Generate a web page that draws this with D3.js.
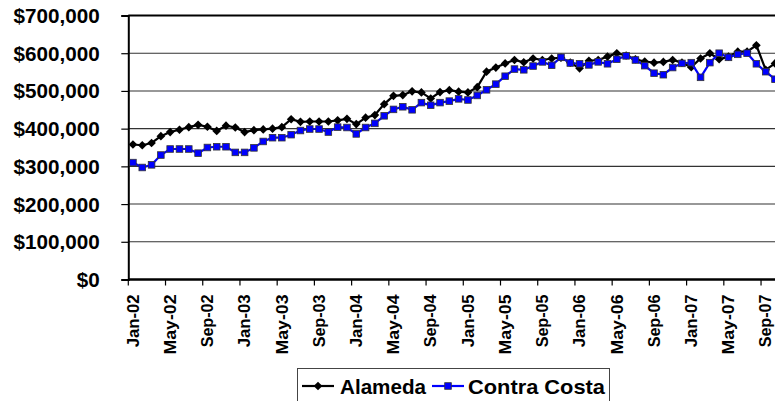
<!DOCTYPE html>
<html>
<head>
<meta charset="utf-8">
<script src="https://cdn.jsdelivr.net/npm/d3@7"></script>
<style>
  html, body { margin: 0; padding: 0; background: #fff; }
  svg { display: block; }
  svg text { font-family: "Liberation Sans", Arial, sans-serif; font-weight: bold; fill: #000; }
</style>
</head>
<body>
<svg id="chart" width="775" height="401"></svg>
<script>
// ---- Data ----
const categories = [
  "Jan-02","Feb-02","Mar-02","Apr-02","May-02","Jun-02","Jul-02","Aug-02","Sep-02","Oct-02","Nov-02","Dec-02",
  "Jan-03","Feb-03","Mar-03","Apr-03","May-03","Jun-03","Jul-03","Aug-03","Sep-03","Oct-03","Nov-03","Dec-03",
  "Jan-04","Feb-04","Mar-04","Apr-04","May-04","Jun-04","Jul-04","Aug-04","Sep-04","Oct-04","Nov-04","Dec-04",
  "Jan-05","Feb-05","Mar-05","Apr-05","May-05","Jun-05","Jul-05","Aug-05","Sep-05","Oct-05","Nov-05","Dec-05",
  "Jan-06","Feb-06","Mar-06","Apr-06","May-06","Jun-06","Jul-06","Aug-06","Sep-06","Oct-06","Nov-06","Dec-06",
  "Jan-07","Feb-07","Mar-07","Apr-07","May-07","Jun-07","Jul-07","Aug-07","Sep-07","Oct-07","Nov-07","Dec-07"
];
const alameda = [
  358000,356000,362000,380000,391000,397000,404000,410000,405000,394000,408000,403000,
  391000,396000,398000,400000,404000,425000,418000,419000,419000,419000,422000,426000,
  412000,429000,436000,465000,487000,489000,499000,496000,480000,497000,502000,498000,
  496000,510000,551000,562000,573000,582000,576000,586000,582000,586000,588000,575000,
  560000,580000,582000,591000,600000,594000,584000,578000,575000,577000,582000,575000,
  563000,586000,600000,584000,591000,604000,604000,621000,556000,573000
];
const contraCosta = [
  310000,297000,304000,330000,346000,346000,346000,335000,350000,352000,352000,337000,
  337000,349000,366000,376000,376000,384000,395000,399000,399000,391000,404000,403000,
  386000,403000,414000,434000,451000,458000,450000,469000,462000,469000,473000,479000,
  476000,488000,503000,518000,539000,558000,556000,566000,577000,568000,589000,574000,
  572000,569000,577000,572000,584000,593000,582000,567000,547000,543000,562000,573000,
  575000,536000,575000,600000,589000,597000,600000,572000,551000,531000
];
const yTicks = [0,100000,200000,300000,400000,500000,600000,700000];
const seriesNames = ["Alameda","Contra Costa"];
const seriesColors = ["#000000","#0000FF"];

// ---- Text width helper (approximates Times New Roman Bold advance widths) ----
const timesBold = { "$":0.5, ",":0.25, "-":0.333, " ":0.25, "J":0.5, "M":0.944, "S":0.556, "A":0.722, "C":0.722,
  "a":0.5, "n":0.556, "y":0.5, "e":0.444, "p":0.556, "l":0.278, "m":0.833, "d":0.556, "o":0.5, "t":0.333, "r":0.444, "s":0.389 };
const timesWidth = (s, size) => size * Array.from(s).reduce((w, ch) => w + (timesBold[ch] ?? 0.5), 0);

// ---- Layout ----
const svg = d3.select("#chart");
const plotLeft = 128.3, bandW = 9.305;
const plotTop = 15.5, plotBottom = 279.5;

const x = d3.scaleBand().domain(categories)
  .range([plotLeft, plotLeft + categories.length * bandW]).paddingInner(0).paddingOuter(0);
const y = d3.scaleLinear().domain([0, 700000]).range([plotBottom, plotTop]);
const cx = c => x(c) + x.bandwidth() / 2;

// gridlines
svg.append("g").selectAll("line").data(yTicks.filter(v => v > 0 && v < 700000)).join("line")
  .attr("x1", plotLeft).attr("x2", 800)
  .attr("y1", d => y(d)).attr("y2", d => y(d))
  .attr("stroke", "#333").attr("stroke-width", 1.1);

// top border
svg.append("line").attr("x1", plotLeft).attr("x2", 800)
  .attr("y1", y(700000)).attr("y2", y(700000))
  .attr("stroke", "#000").attr("stroke-width", 2.2);

// y axis
const yAxis = d3.axisLeft(y).tickValues(yTicks).tickSize(7)
  .tickFormat(d => "$" + d3.format(",")(d));
const gy = svg.append("g").attr("transform", `translate(${plotLeft},0)`).call(yAxis)
  .attr("font-family", null).attr("font-size", null);
gy.select(".domain").attr("stroke", "#000").attr("stroke-width", 2);
gy.selectAll(".tick line").attr("stroke", "#000").attr("stroke-width", 1.2);
gy.selectAll(".tick text")
  .attr("x", -28.5).attr("dy", "0.36em")
  .style("font-size", "19.5px").attr("fill", "#000")
  .attr("textLength", function() { return timesWidth(this.textContent, 23); })
  .attr("lengthAdjust", "spacingAndGlyphs");

// x axis
const xTickCats = categories.filter((c, i) => i % 4 === 0);
const gx = svg.append("g");
gx.append("line").attr("x1", plotLeft).attr("x2", 800)
  .attr("y1", plotBottom).attr("y2", plotBottom).attr("stroke", "#000").attr("stroke-width", 2.4);
gx.selectAll("line.tk").data(xTickCats).join("line").attr("class", "tk")
  .attr("x1", d => x(d)).attr("x2", d => x(d))
  .attr("y1", plotBottom).attr("y2", plotBottom + 6)
  .attr("stroke", "#000").attr("stroke-width", 1.2);
gx.selectAll("text").data(xTickCats).join("text")
  .attr("transform", d => `translate(${cx(d)},294.5) rotate(-90)`)
  .attr("text-anchor", "end").attr("dy", "0.36em")
  .style("font-size", "16px")
  .attr("textLength", d => timesWidth(d, 18.3))
  .attr("lengthAdjust", "spacingAndGlyphs")
  .text(d => d);

// series
const lineGen = d3.line().x((d, i) => cx(categories[i])).y(d => y(d));
const diamond = d3.symbol().type(d3.symbolDiamond2 || d3.symbolDiamond).size(d3.symbolDiamond2 ? 48 : 44);

const g1 = svg.append("g");
g1.append("path").datum(alameda).attr("d", lineGen)
  .attr("fill", "none").attr("stroke", seriesColors[0]).attr("stroke-width", 2.2);
g1.selectAll("path.m").data(alameda).join("path").attr("class", "m")
  .attr("d", diamond)
  .attr("transform", (d, i) => `translate(${cx(categories[i])},${y(d)})`)
  .attr("fill", "#000");

const g2 = svg.append("g");
g2.append("path").datum(contraCosta).attr("d", lineGen)
  .attr("fill", "none").attr("stroke", seriesColors[1]).attr("stroke-width", 2.2);
g2.selectAll("rect").data(contraCosta).join("rect")
  .attr("x", (d, i) => cx(categories[i]) - 3.3)
  .attr("y", d => y(d) - 3.3)
  .attr("width", 6.6).attr("height", 6.6)
  .attr("fill", "#0000FF").attr("stroke", "#333").attr("stroke-width", 0.8);

// legend
const lg = svg.append("g");
lg.append("rect").attr("x", 297.5).attr("y", 368.5).attr("width", 312).attr("height", 40)
  .attr("fill", "#fff").attr("stroke", "#444").attr("stroke-width", 1);
const ly = 386;
lg.append("line").attr("x1", 302).attr("x2", 334).attr("y1", ly).attr("y2", ly)
  .attr("stroke", "#000").attr("stroke-width", 2.2);
lg.append("path").attr("d", diamond).attr("transform", `translate(318,${ly})`).attr("fill", "#000");
lg.append("text").attr("x", 340).attr("y", 394).style("font-size", "21px")
  .attr("textLength", 86).attr("lengthAdjust", "spacingAndGlyphs").text(seriesNames[0]);
lg.append("line").attr("x1", 432).attr("x2", 464).attr("y1", ly).attr("y2", ly)
  .attr("stroke", "#0000FF").attr("stroke-width", 2.2);
lg.append("rect").attr("x", 448 - 3.3).attr("y", ly - 3.3).attr("width", 6.6).attr("height", 6.6)
  .attr("fill", "#0000FF").attr("stroke", "#333").attr("stroke-width", 0.8);
lg.append("text").attr("x", 468).attr("y", 394).style("font-size", "21px")
  .attr("textLength", 137).attr("lengthAdjust", "spacingAndGlyphs").text(seriesNames[1]);
</script>
</body>
</html>
